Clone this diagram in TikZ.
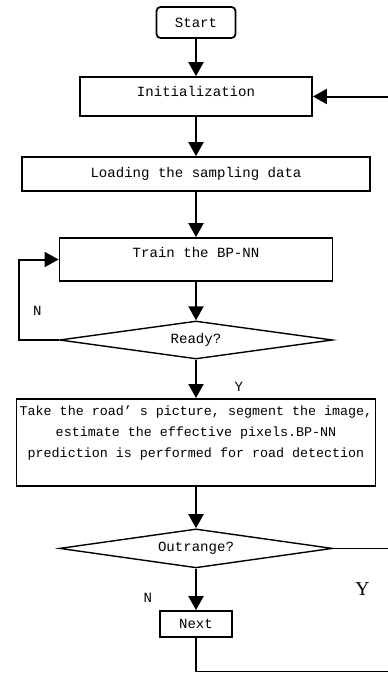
\documentclass[tikz,border=0pt]{standalone}
\usepackage{fontspec}
\setmainfont{Liberation Mono}
\newfontfamily\ylabelfont{Liberation Serif}
\usetikzlibrary{positioning, arrows.meta, shapes.geometric}

\begin{document}
\begin{tikzpicture}
[
    node distance=18mm, on grid, 
    box_node/.style={rectangle, draw=black, line width=0.45mm, inner sep=0pt, font=\fontsize{10}{15}\selectfont},
    start_node/.style={box_node, rounded corners=1mm},
    test_node/.style={diamond, draw=black, line width=0.35mm, inner sep=0pt, aspect=7, minimum width=68.25mm, font=\fontsize{10}{15}\selectfont},
    label_node/.style={inner sep=0pt, font=\fontsize{10}{12}\selectfont},
    flow/.style={-{Triangle[length=3.5mm, width=3.75mm]}, line width=0.5mm, color=black},
    thin_line/.style={line width=0.3mm, color=black},
]
    \useasboundingbox (0,0) rectangle (97mm,-168.25mm);
    \node[start_node, minimum width=19.75mm, minimum height=7.75mm] (start) at (49mm,-5.625mm) {Start} ;
    \node[box_node, minimum width=58mm, minimum height=9.75mm] (init) [below=18.5mm of start] {\raisebox{2.5mm}{Initialization}} ;
    \node[box_node, minimum width=87mm, minimum height=8.5mm] (load) [below=19.375mm of init] {Loading the sampling data} ;
    \node[box_node, minimum width=68.25mm, minimum height=10.75mm] (train) [below=21.375mm of load] {\raisebox{3.5mm}{Train the BP-NN}} ;
    \node[test_node, minimum height=9.5mm] (ready) [below=20.125mm of train] {Ready?} ;
    \node[box_node, minimum width=89.75mm, minimum height=21.75mm, align=center, font=\fontsize{9.5}{15}\selectfont] (work) [below=25.6mm of ready]
        {Take the road’ s picture, segment the image,\\estimate the effective pixels.BP-NN\\prediction is performed for road detection\\\mbox{}} ;
    \node[test_node, minimum height=9.75mm] (out) [below=26.5mm of work] {Outrange?} ;
    \node[box_node, minimum width=18mm, minimum height=6.5mm] (next) [below=18.9mm of out] {Next} ;

    % labels of the tests
    \node[label_node] (ready_n) [above left=6mm and 4.25mm of ready.west] {N} ;
    \node[label_node] (ready_y) [below right=5.5mm and 9.6mm of ready.south] {Y} ;
    \node[label_node] (out_n) [below left=6mm and 10.9mm of out.south] {N} ;
    \node[label_node, font=\ylabelfont\fontsize{14}{16}\selectfont] (out_y) [below right=8.4mm and 5.5mm of out.east] {Y} ;

    % loose ends at the border
    \coordinate[right=48mm of init] (init_end) ;
    \coordinate[right=47.875mm of out] (out_end) ;
    \coordinate[below=11.9mm of next] (next_end) ;

    \draw[flow] (start) -- (init) ;
    \draw[flow] (init) -- (load) ;
    \draw[flow] (load) -- (train) ;
    \draw[flow] (train) -- (ready) ;
    \draw[flow] (ready) -- (work) ;
    \draw[flow] (work) -- (out) ;
    \draw[flow] (out) -- (next) ;
    \draw[flow] (ready.west) -- ++(-10mm,0) |- (train.west) ;
    \draw[flow] (init_end) -- (init) ;
    \draw[thin_line] (out.east) -- (out_end) ;
    \draw[thin_line] (next) -- (next_end) -- (next_end -| out_end) ;
\end{tikzpicture}
\end{document}
